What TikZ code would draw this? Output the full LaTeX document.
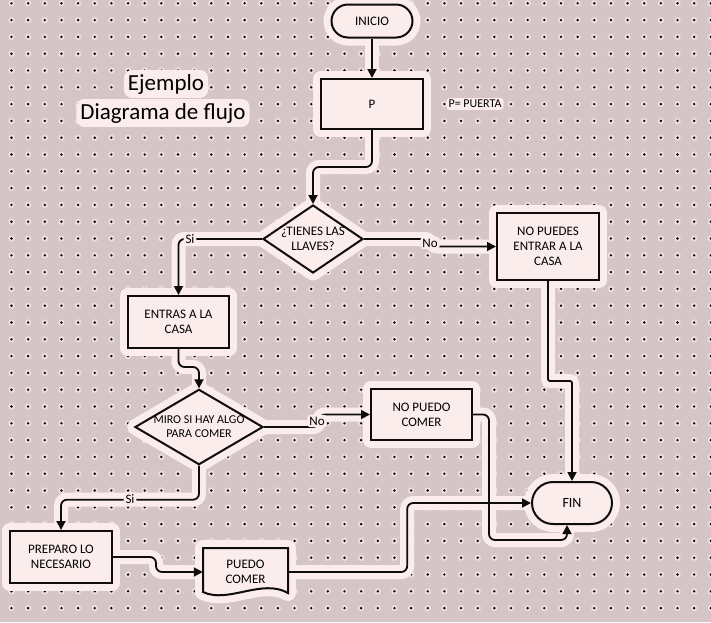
\documentclass[tikz,border=0pt]{standalone}
\usepackage{fontspec}
\setmainfont{Carlito}
\usetikzlibrary{arrows.meta,shapes.geometric,shapes.misc,backgrounds,calc}
\definecolor{paper}{RGB}{214,197,199}
\definecolor{glow}{RGB}{252,237,237}
\definecolor{pinring}{RGB}{236,222,223}
\definecolor{pin}{RGB}{60,48,50}
\definecolor{ink}{RGB}{15,12,12}
\tikzset{
  glow box/.style={preaction={draw=glow, line width=16pt, line join=round}},
  box/.style={draw=ink, line width=2pt, fill=glow, glow box, align=center,
    font=\fontsize{13}{15}\selectfont, minimum width=101pt, minimum height=51pt, inner sep=2pt},
  term/.style={box, rounded rectangle, minimum width=85pt, minimum height=33pt},
  ask/.style={box, diamond, inner sep=0pt},
  flow/.style={draw=ink, line width=1.8pt, rounded corners=6pt, -{Triangle[length=9pt,width=9pt]}},
  glow line/.style={draw=glow, line width=14pt, rounded corners=6pt},
  tag/.style={fill=glow, font=\fontsize{13}{15}\selectfont, inner sep=2pt, rounded corners=3pt},
  title/.style={fill=glow, font=\fontsize{23}{29}\selectfont, inner sep=4pt, rounded corners=8pt}
}
% connectors, drawn twice: once as glow, once as line
\newcommand\flowlinks[1]{
  \draw[#1] (inicio) -- (p);
  \draw[#1] (p.south) -- ++(0,37) -| (d1.north);
  \draw[#1] (d1.west) -| (entras.north);
  \draw[#1] (d1.east) -- ++(67,0) |- (npe.west);
  \draw[#1] (entras.south) -- ++(0,18) -| (d2.north);
  \draw[#1] (d2.east) -- ++(55,0) |- (npc.west);
  \draw[#1] (d2.south) -- ++(0,34) -| (prep.north);
  \draw[#1, rounded corners=2pt] (npe.south) -- ++(0,100) -| (fin.north);
  \draw[#1] (npc.east) -- ++(16,0) |- ($(fin.south)+(-5,15)$) -- ($(fin.south)+(-5,0)$);
  \draw[#1] (prep.east) -- ++(43,0) |- (puedo.west);
  \draw[#1] (puedo.east) -- ++(119,0) |- (fin.west);
}

\begin{document}
\begin{tikzpicture}[x=1pt, y=-1pt]
  \useasboundingbox (0,0) rectangle (711,622);

  \node[title] (ejemplo) at (166,84) {Ejemplo};
  \node[title] (diagrama) at (163,113) {Diagrama de flujo};
  \node[tag, font=\fontsize{12}{14}\selectfont] (puerta) at (475,104) {P= PUERTA};

  \node[term] (inicio) at (372,21) {INICIO};
  \node[box, minimum width=102pt, minimum height=50pt] (p) at (372,104) {P};
  \node[ask, aspect=1.47, minimum width=100pt, minimum height=68pt] (d1) at (313,239) {¿TIENES LAS\\LLAVES?};
  \node[box, minimum width=102pt, minimum height=67pt] (npe) at (548,246.5) {NO PUEDES\\ENTRAR A LA\\CASA};
  \node[box, minimum height=52pt] (entras) at (178.5,322) {ENTRAS A LA\\CASA};
  \node[ask, aspect=1.7, minimum width=126pt, minimum height=74pt, font=\fontsize{12}{14}\selectfont] (d2) at (199,427) {MIRO SI HAY ALGO\\PARA COMER};
  \node[box] (npc) at (421.5,414.5) {NO PUEDO\\COMER};
  \node[term, minimum width=84pt, minimum height=42pt, font=\fontsize{14}{16}\selectfont] (fin) at (572,503) {FIN};
  \node[box, minimum width=102pt, minimum height=52pt] (prep) at (61,557) {PREPARO LO\\NECESARIO};
  % document shape
  \filldraw[draw=ink, fill=glow, line width=2pt, glow box]
    (203,548) -- (288,548) -- (288,593) .. controls (262,578) and (228,604) .. (203,592) -- cycle;
  \node[align=center, font=\fontsize{13}{15}\selectfont, minimum width=85pt, minimum height=48pt, inner sep=0pt] (puedo) at (245.5,572) {PUEDO\\COMER};

  \begin{scope}[on background layer]
    \fill[paper] (0,0) rectangle (711,622);
    \foreach \i in {0,...,42}
      \foreach \j in {0,...,36} {
        \fill[pinring] (11.5+16.65*\i, 3.3+16.8*\j) circle (3.2pt);
        \fill[pin] (11.5+16.65*\i, 3.3+16.8*\j) circle (1.3pt);
      }
    \flowlinks{glow line}
  \end{scope}

  \flowlinks{flow}

  \node[tag] (si1) at (190,239) {Si};
  \node[tag] (no1) at (430,243) {No};
  \node[tag] (no2) at (317,421) {No};
  \node[tag] (si2) at (130,499) {Si};
\end{tikzpicture}
\end{document}
